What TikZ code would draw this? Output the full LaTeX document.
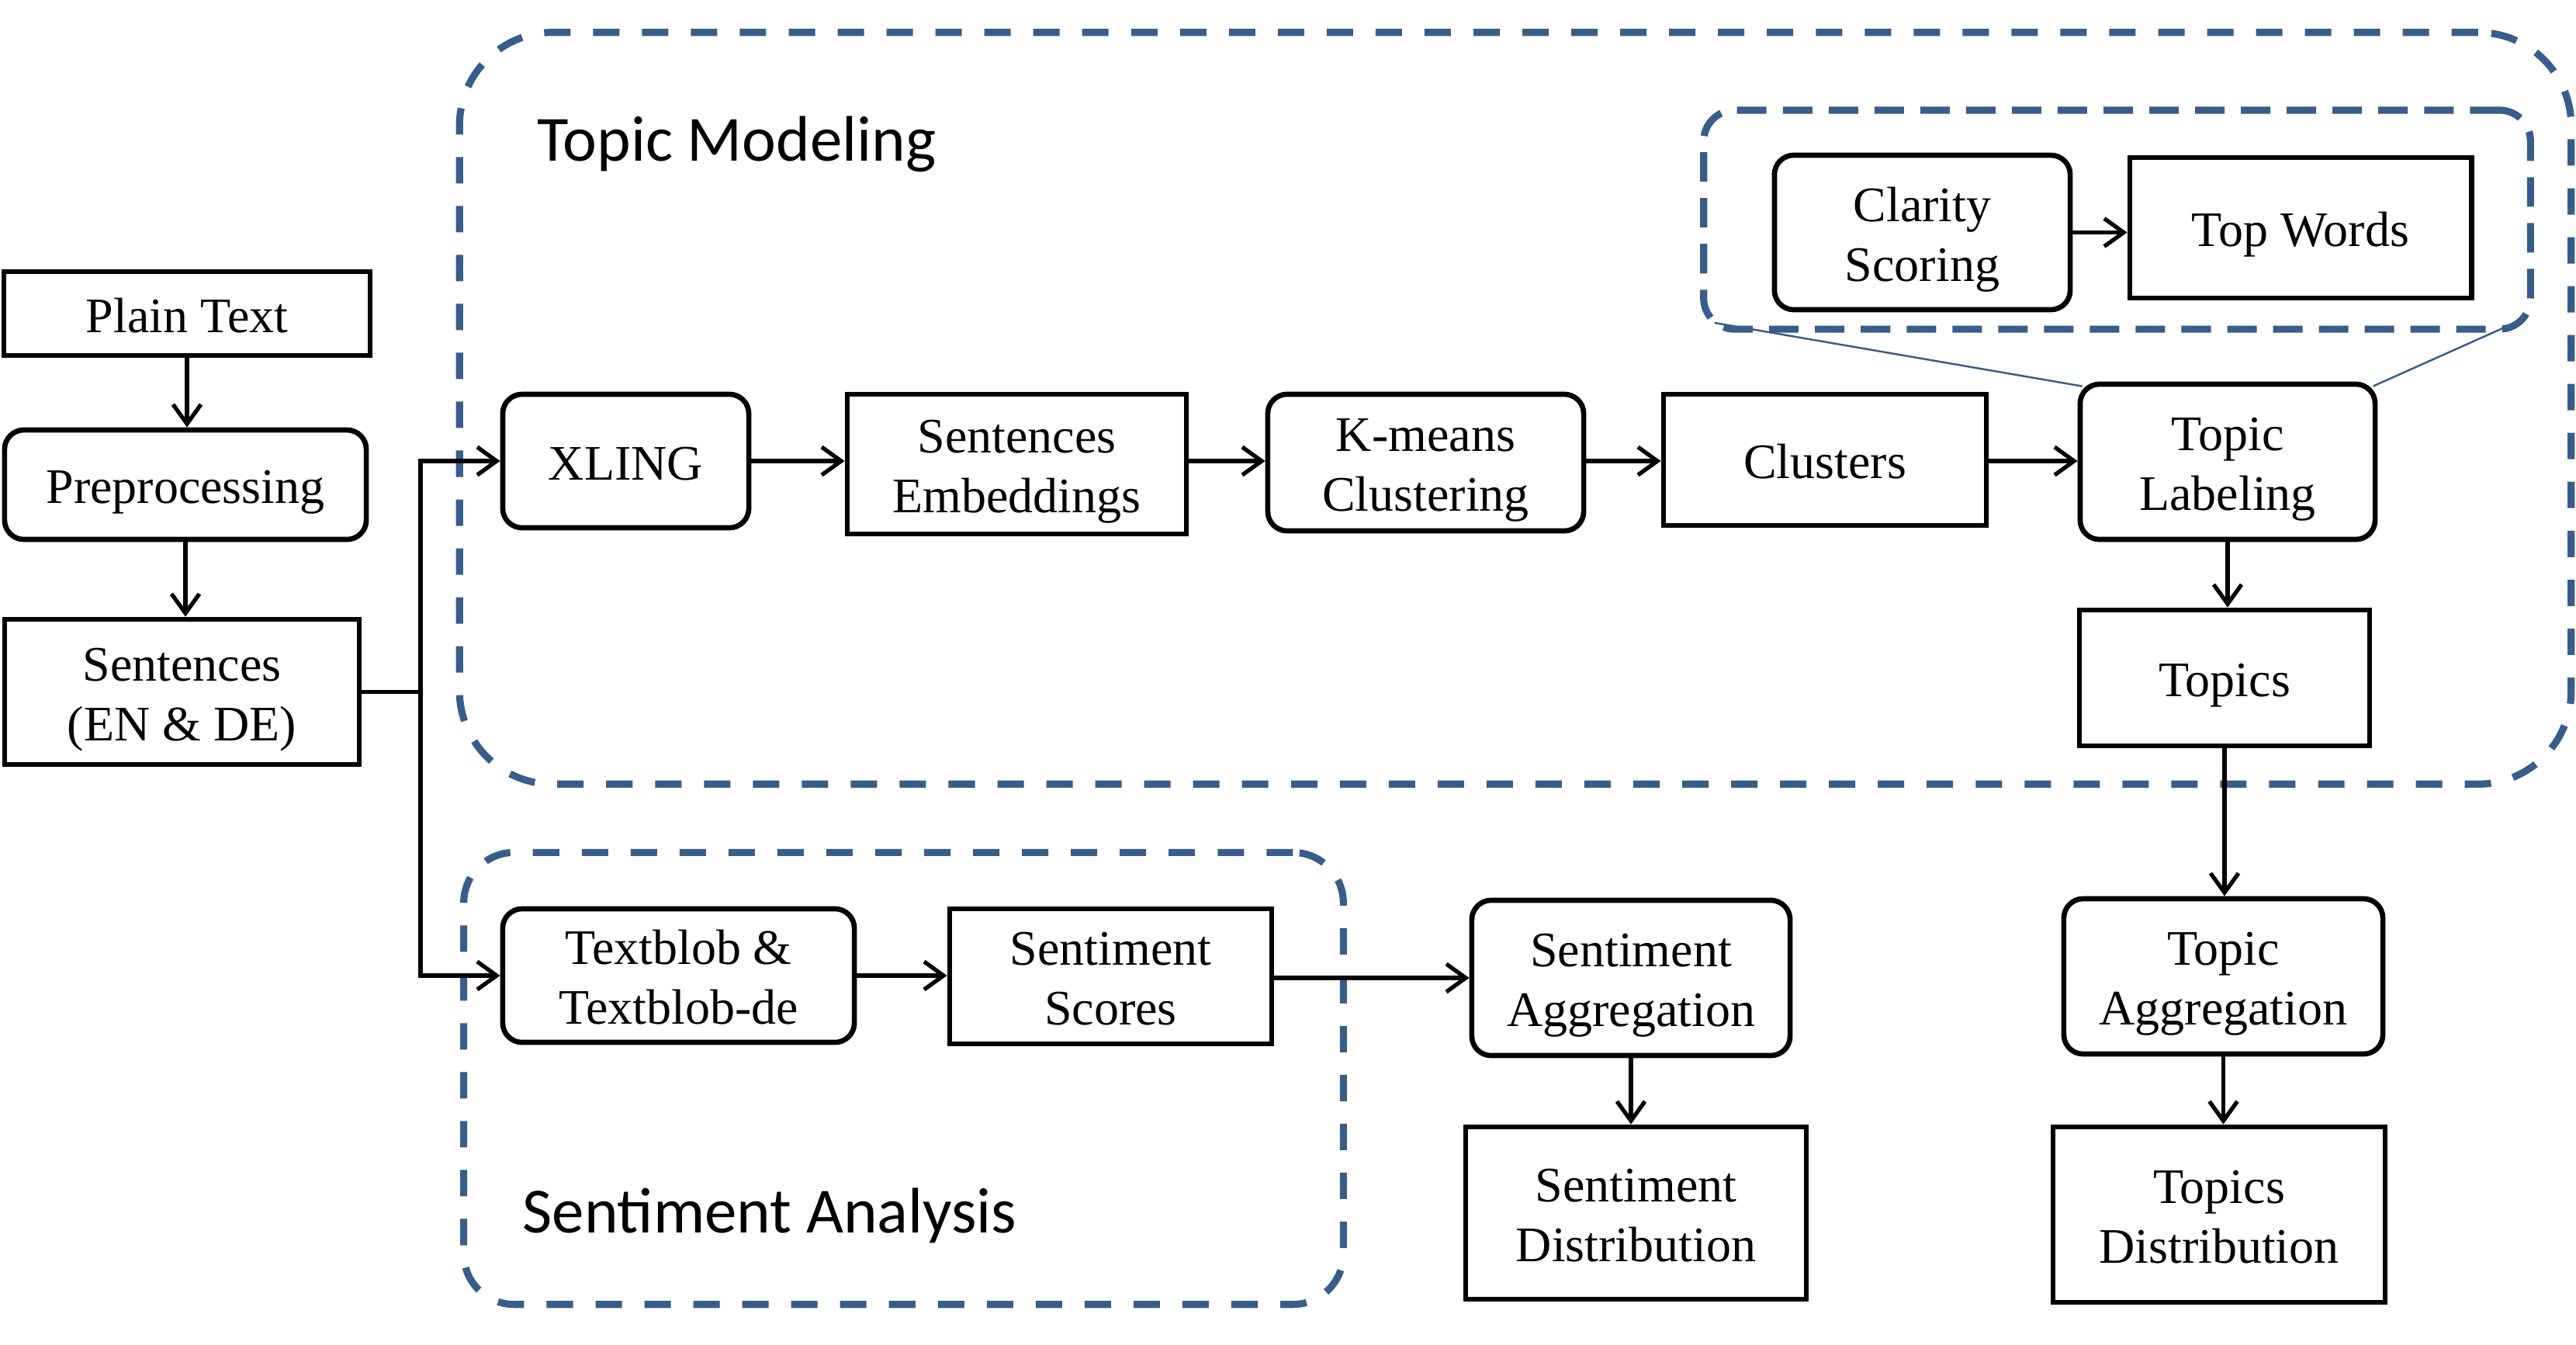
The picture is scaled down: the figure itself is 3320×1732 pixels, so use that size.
\documentclass[tikz,border=0pt]{standalone}
\usepackage{fontspec}
\setmainfont{Liberation Serif}
\newfontfamily\headfont{Carlito}
\usetikzlibrary{arrows.meta}
\definecolor{dashblue}{RGB}{56,93,138}
\newcommand{\Ls}[1]{\raisebox{0pt}[15pt][1.2pt]{#1}}
\begin{document}
\begin{tikzpicture}[x=0.01cm,y=-0.01cm,
  box/.style={draw=black,line width=1.9pt,fill=white,align=center,inner sep=0pt,
    font=\fontsize{18.2pt}{22pt}\selectfont},
  proc/.style={box,rounded corners=0.25cm},
  arr/.style={line width=1.5pt,-{Straight Barb[length=0.25cm,width=0.36cm]}},
  conn/.style={line width=1.5pt},
  grp/.style={draw=dashblue,line width=2.6pt,dash pattern=on 0.34cm off 0.29cm,inner sep=0pt},
  grpin/.style={draw=dashblue,line width=2.6pt,dash pattern=on 0.38cm off 0.21cm,inner sep=0pt},
  head/.style={font=\headfont\fontsize{23.6pt}{28pt}\selectfont,inner sep=0pt,anchor=west}]
\useasboundingbox[fill=white] (0,0) rectangle (3320,1732);

% group frames
\node[grp,rounded corners=1.2cm,minimum width=27.2cm,minimum height=9.68cm] (tm) at (1953,526) {};
\node[grp,rounded corners=0.65cm,minimum width=11.33cm,minimum height=5.82cm] (sa) at (1164.5,1389.5) {};
\node[grpin,rounded corners=0.4cm,minimum width=10.65cm,minimum height=2.82cm] (zoomgrp) at (2728.5,283) {};

\node[head] (tmlabel) at (692,186) {Topic Modeling};
\node[head] (salabel) at (673,1566) {Sentiment Analysis};

% nodes
\node[box,minimum width=4.72cm,minimum height=1.08cm] (plain) at (241,404) {\Ls{Plain Text}};
\node[proc,minimum width=4.66cm,minimum height=1.41cm] (prep) at (239,624.5) {\Ls{Preprocessing}};
\node[box,minimum width=4.57cm,minimum height=1.87cm] (sent) at (234.5,891.5) {\Ls{Sentences}\\\Ls{(EN \& DE)}};

\node[proc,minimum width=3.17cm,minimum height=1.72cm] (xling) at (806.5,594) {\Ls{XLING}};
\node[box,minimum width=4.37cm,minimum height=1.80cm] (emb) at (1310.5,598) {\Ls{Sentences}\\\Ls{Embeddings}};
\node[proc,minimum width=4.07cm,minimum height=1.76cm] (kmeans) at (1837.5,596) {\Ls{K-means}\\\Ls{Clustering}};
\node[box,minimum width=4.16cm,minimum height=1.69cm] (clusters) at (2352,592.5) {\Ls{Clusters}};
\node[proc,minimum width=3.80cm,minimum height=2.00cm] (label) at (2871,595) {\Ls{Topic}\\\Ls{Labeling}};
\node[box,minimum width=3.74cm,minimum height=1.75cm] (topics) at (2867,873.5) {\Ls{Topics}};

\node[proc,minimum width=3.81cm,minimum height=1.99cm] (clarity) at (2477.5,299.5) {\Ls{Clarity}\\\Ls{Scoring}};
\node[box,minimum width=4.40cm,minimum height=1.81cm] (topw) at (2965,293.5) {\Ls{Top Words}};

\node[proc,minimum width=4.11cm,minimum height=2.00cm] (tagg) at (2865.5,1258) {\Ls{Topic}\\\Ls{Aggregation}};
\node[box,minimum width=4.28cm,minimum height=2.26cm] (tdist) at (2860,1565) {\Ls{Topics}\\\Ls{Distribution}};

\node[proc,minimum width=4.53cm,minimum height=1.72cm] (tb) at (874.5,1257) {\Ls{Textblob \&}\\\Ls{Textblob-de}};
\node[box,minimum width=4.15cm,minimum height=1.74cm] (sscore) at (1431.5,1258) {\Ls{Sentiment}\\\Ls{Scores}};
\node[proc,minimum width=4.10cm,minimum height=2.00cm] (sagg) at (2102,1260) {\Ls{Sentiment}\\\Ls{Aggregation}};
\node[box,minimum width=4.39cm,minimum height=2.22cm] (sdist) at (2108.5,1563) {\Ls{Sentiment}\\\Ls{Distribution}};

% connectors
\coordinate (br) at (542,891.5);
\draw[arr] (plain.south) -- (plain.south |- prep.north);
\draw[arr] (prep.south) -- (prep.south |- sent.north);
\draw[conn] (sent.east) -- (br);
\draw[arr] (br) |- (xling.west);
\draw[arr] (br) |- (tb.west);

\draw[arr] (xling.east) -- (xling.east -| emb.west);
\draw[arr] (emb.east |- xling.east) -- (xling.east -| kmeans.west);
\draw[arr] (kmeans.east |- xling.east) -- (xling.east -| clusters.west);
\draw[arr] (clusters.east |- xling.east) -- (xling.east -| label.west);
\draw[arr] (label.south) -- (label.south |- topics.north);
\draw[arr] (topics.south) -- (topics.south |- tagg.north);
\draw[arr] (tagg.south) -- (tagg.south |- tdist.north);

\draw[arr] (clarity.east) -- (clarity.east -| topw.west);

\draw[arr] (tb.east) -- (tb.east -| sscore.west);
\draw[arr] (sscore.east |- sagg.west) -- (sagg.west);
\draw[arr] (sagg.south) -- (sagg.south |- sdist.north);

% zoom lines
\coordinate (zl) at (2210,416);
\coordinate (zr) at (3241,416);
\draw[dashblue,line width=0.7pt] (zl) -- ([xshift=0.06cm,yshift=-0.06cm]label.north west);
\draw[dashblue,line width=0.7pt] (zr) -- ([xshift=-0.06cm,yshift=-0.06cm]label.north east);
\end{tikzpicture}
\end{document}
